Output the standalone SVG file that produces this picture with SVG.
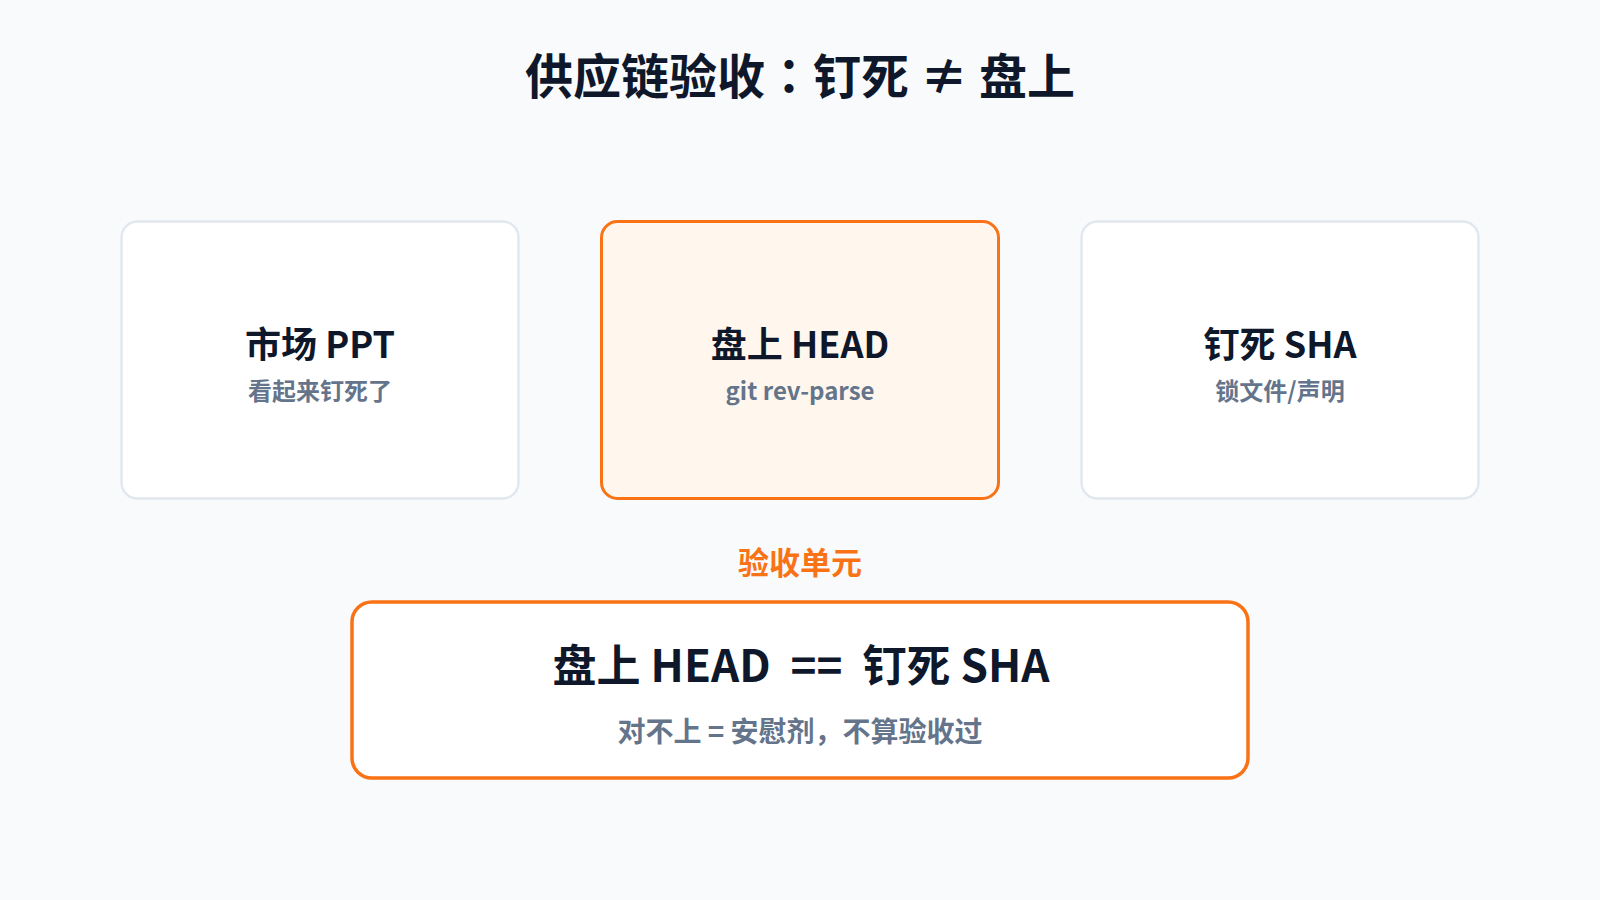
<svg xmlns="http://www.w3.org/2000/svg" width="1600" height="900" viewBox="0 0 1600 900">
<style>
text { font-family: "Noto Sans CJK SC", "Noto Sans", sans-serif; text-anchor: middle; white-space: pre; }
.title { font-size: 48px; font-weight: 700; fill: #0f172a; }
.jp { font-family: "Noto Sans CJK JP", "Noto Sans CJK SC", sans-serif; }
.h { font-size: 36px; font-weight: 700; fill: #0f172a; }
.s { font-size: 24px; font-weight: 700; fill: #64748b; }
.card { fill: #ffffff; stroke: #e2e8f0; stroke-width: 2.5; }
.hot { fill: #fff7ed; stroke: #f97316; stroke-width: 3; }
.lbl { font-size: 31px; font-weight: 700; fill: #f97316; }
.big { font-size: 44px; font-weight: 700; fill: #0f172a; }
.bs { font-size: 28px; font-weight: 700; fill: #64748b; }
</style>
<rect width="1600" height="900" fill="#f8fafc"/>
<text class="title" x="800" y="94">供应链验收<tspan class="jp">：</tspan>钉死 ≠ 盘上</text>
<g id="node-ppt">
<rect class="card" x="121.5" y="221.5" width="397" height="277" rx="16"/>
<text class="h" x="320" y="358">市场 PPT</text>
<text class="s" x="320" y="400">看起来钉死了</text>
</g>
<g id="node-head">
<rect class="hot" x="601.5" y="221.5" width="397" height="277" rx="16"/>
<text class="h" x="800" y="358">盘上 HEAD</text>
<text class="s" x="800" y="400">git rev-parse</text>
</g>
<g id="node-sha">
<rect class="card" x="1081.5" y="221.5" width="397" height="277" rx="16"/>
<text class="h" x="1280" y="358">钉死 SHA</text>
<text class="s" x="1280" y="400">锁文件/声明</text>
</g>
<g id="connectors"></g>
<g id="node-unit">
<text class="lbl" x="800" y="574">验收单元</text>
<rect x="352" y="602" width="896" height="176" rx="20" fill="#ffffff" stroke="#f97316" stroke-width="3.5"/>
<text class="big" x="801" y="682">盘上 HEAD  ==  钉死 SHA</text>
<text class="bs" x="800" y="742">对不上 = 安慰剂，不算验收过</text>
</g>
</svg>
